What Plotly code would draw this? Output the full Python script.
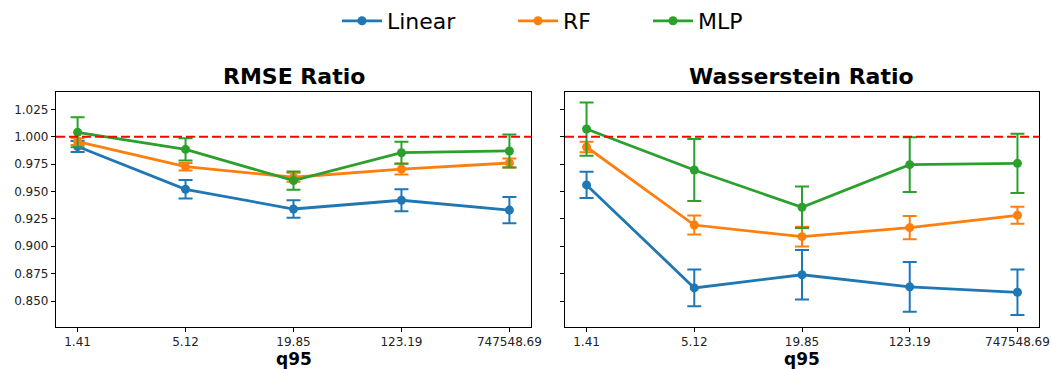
import plotly.graph_objects as go
from plotly.subplots import make_subplots

# q95 bins (x-axis categories)
categories = ["1.41", "5.12", "19.85", "123.19", "747548.69"]
models = ["Linear", "RF", "MLP"]
colors = {"Linear": "#1f77b4", "RF": "#ff7f0e", "MLP": "#2ca02c"}

# RMSE ratio: mean and error half-width per bin
rmse_linear = [0.991, 0.952, 0.934, 0.942, 0.933]
rmse_linear_err = [0.005, 0.0085, 0.008, 0.010, 0.012]
rmse_rf = [0.9955, 0.9726, 0.963, 0.9705, 0.976]
rmse_rf_err = [0.003, 0.0035, 0.004, 0.005, 0.004]
rmse_mlp = [1.004, 0.9885, 0.960, 0.9854, 0.987]
rmse_mlp_err = [0.0137, 0.0102, 0.0083, 0.010, 0.015]

# Wasserstein ratio: mean and error half-width per bin
wass_linear = [0.956, 0.862, 0.874, 0.863, 0.858]
wass_linear_err = [0.012, 0.0167, 0.0225, 0.0227, 0.0207]
wass_rf = [0.9906, 0.9194, 0.9088, 0.917, 0.9283]
wass_rf_err = [0.0047, 0.0087, 0.009, 0.0107, 0.0077]
wass_mlp = [1.007, 0.9696, 0.9356, 0.9745, 0.9757]
wass_mlp_err = [0.0243, 0.0283, 0.019, 0.025, 0.027]

panel_titles = ["RMSE Ratio", "Wasserstein Ratio"]
y_ticks = [0.850, 0.875, 0.900, 0.925, 0.950, 0.975, 1.000, 1.025]

panels = [
    {"Linear": (rmse_linear, rmse_linear_err), "RF": (rmse_rf, rmse_rf_err),
     "MLP": (rmse_mlp, rmse_mlp_err)},
    {"Linear": (wass_linear, wass_linear_err), "RF": (wass_rf, wass_rf_err),
     "MLP": (wass_mlp, wass_mlp_err)},
]

FONT = "DejaVu Sans"
W, H = 1052, 369
xpos = list(range(len(categories)))

# one legend box per model so the entries can be spaced freely
legend_ids = {"Linear": "legend", "RF": "legend2", "MLP": "legend3"}
legend_left_px = {"Linear": 337, "RF": 513, "MLP": 648}

fig = make_subplots(rows=1, cols=2)

for col, panel in enumerate(panels, start=1):
    for name in models:
        vals, errs = panel[name]
        fig.add_trace(
            go.Scatter(
                x=xpos, y=vals, name=name, legend=legend_ids[name],
                mode="lines+markers",
                line=dict(color=colors[name], width=2.8),
                marker=dict(color=colors[name], size=9),
                error_y=dict(type="data", array=errs, visible=True,
                             color=colors[name], thickness=2, width=7),
                showlegend=(col == 1),
            ),
            row=1, col=col,
        )

# reference line at ratio = 1 in each panel
for xref, yref in [("x domain", "y"), ("x2 domain", "y2")]:
    fig.add_shape(type="line", xref=xref, yref=yref,
                  x0=0, x1=1, y0=1.0, y1=1.0, layer="above",
                  line=dict(color="#ff0000", width=2, dash="9px,4px"))

axis_common = dict(showline=True, linecolor="black", linewidth=1.2, mirror=True,
                   ticks="outside", ticklen=4, tickcolor="black", showgrid=False,
                   zeroline=False, automargin=False,
                   tickfont=dict(family=FONT, size=12, color="#222"))

yrange = [0.8266, 1.0408]
xrange = [-0.2, 4.2]
xdom1 = [56 / W, 531 / W]
xdom2 = [565 / W, 1039 / W]
ydom = [1 - 326.7 / H, 1 - 92 / H]

legend_style = dict(orientation="h", xanchor="left", y=1.0, yanchor="top",
                    font=dict(family=FONT, size=22), itemwidth=40,
                    bgcolor="rgba(0,0,0,0)")

fig.update_layout(
    width=W, height=H,
    margin=dict(l=0, r=0, t=0, b=0),
    paper_bgcolor="white", plot_bgcolor="white",
    font=dict(family=FONT, color="black"),
    xaxis=dict(domain=xdom1, range=xrange, tickvals=xpos, ticktext=categories,
               **axis_common),
    xaxis2=dict(domain=xdom2, range=xrange, tickvals=xpos, ticktext=categories,
                **axis_common),
    yaxis=dict(domain=ydom, range=yrange, tickvals=y_ticks,
               tickformat=".3f", **axis_common),
    yaxis2=dict(domain=ydom, range=yrange, tickvals=y_ticks,
                showticklabels=False, **axis_common),
)
for name in models:
    fig.update_layout({legend_ids[name]: dict(x=legend_left_px[name] / W, **legend_style)})

# panel titles and x-axis titles
for dom, title in zip([xdom1, xdom2], panel_titles):
    cx = (dom[0] + dom[1]) / 2
    fig.add_annotation(text=f"<b>{title}</b>", xref="paper", yref="paper",
                       x=cx, y=1 - 76 / H, xanchor="center", yanchor="middle",
                       showarrow=False, font=dict(family=FONT, size=22, color="black"))
    fig.add_annotation(text="<b>q95</b>", xref="paper", yref="paper",
                       x=cx, y=1 - 359 / H, xanchor="center", yanchor="middle",
                       showarrow=False, font=dict(family=FONT, size=17, color="black"))

fig.write_html("out.html")
